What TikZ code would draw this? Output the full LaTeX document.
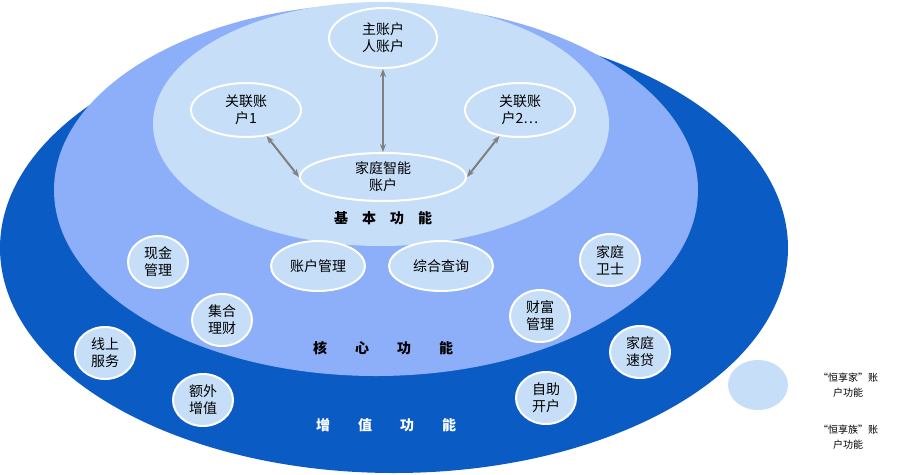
\documentclass[tikz,border=0pt]{standalone}
\usepackage{fontspec}
\setmainfont{Noto Sans CJK SC}
\usetikzlibrary{arrows.meta,shapes.geometric}
\definecolor{outerblue}{HTML}{0A5BC4}
\definecolor{midblue}{HTML}{8DAEF8}
\definecolor{innerblue}{HTML}{C6DEF8}
\tikzset{
  acct/.style={ellipse, draw=white, line width=2pt, fill=innerblue, inner sep=0pt, align=center, font=\fontsize{14}{17}\selectfont},
  link/.style={draw=gray, line width=2pt, {Stealth[length=8pt]}-{Stealth[length=8pt]}},
  band/.style={font=\bfseries\fontsize{14}{16}\selectfont}
}
\begin{document}
\begin{tikzpicture}[x=1pt,y=-1pt]
			\useasboundingbox (0,0) rectangle (901,474);
			% rings
			\fill[outerblue] (394,248) ellipse [x radius=394, y radius=225];
			\fill[midblue] (376,190) ellipse [x radius=322, y radius=186];
			\fill[innerblue] (381,124) ellipse [x radius=228, y radius=122];

			% basic
			\node[acct, minimum width=108pt, minimum height=60pt] (main) at(383,38){主账户\\人账户};
			\node[acct, minimum width=110pt, minimum height=54pt] (rel1) at(246,110){关联账\\户1};
			\node[acct, minimum width=110pt, minimum height=54pt] (rel2) at(520,110){关联账\\户2\ldots};
			\node[acct, minimum width=166pt, minimum height=48pt] (home) at(383,177){家庭智能\\账户};
			\node[band] (basic) at(383,218){基\quad 本\quad 功\quad 能};
			\draw[link] (main) -- (home);
			\draw[link] (rel1) -- (home.west);
			\draw[link] (rel2) -- (home.east);

			% core
			\node[acct, minimum width=94pt, minimum height=50pt] (mgmt) at(318,266){账户管理};
			\node[acct, minimum width=104pt, minimum height=50pt] (query) at(441,266){综合查询};
			\node[acct, minimum width=60pt, minimum height=52pt] (cash) at(158,262){现金\\管理};
			\node[acct, minimum width=60pt, minimum height=52pt] (guard) at(610,260){家庭\\卫士};
			\node[acct, minimum width=60pt, minimum height=52pt] (pool) at(222,320){集合\\理财};
			\node[acct, minimum width=60pt, minimum height=52pt] (wealth) at(540,316){财富\\管理};
			\node[band] (core) at(383,348){核\qquad 心\qquad 功\qquad 能};

			% value added
			\node[acct, minimum width=60pt, minimum height=52pt] (online) at(105,353){线上\\服务};
			\node[acct, minimum width=60pt, minimum height=52pt] (loan) at(640,352){家庭\\速贷};
			\node[acct, minimum width=60pt, minimum height=52pt] (extra) at(203,400){额外\\增值};
			\node[acct, minimum width=60pt, minimum height=52pt] (self) at(546,398){自助\\开户};
			\node[band, text=white] (value) at(386,425){增\qquad 值\qquad 功\qquad 能};

			% legend
			\node[ellipse, fill=innerblue, minimum width=60pt, minimum height=50pt] (key) at(758,385){};
			\node[align=center, font=\fontsize{10}{15}\selectfont] (keytxt1) at(848,385){“恒享家”账\\户功能};
			\node[align=center, font=\fontsize{10}{15}\selectfont] (keytxt2) at(848,437){“恒享族”账\\户功能};
		\end{tikzpicture}
\end{document}
